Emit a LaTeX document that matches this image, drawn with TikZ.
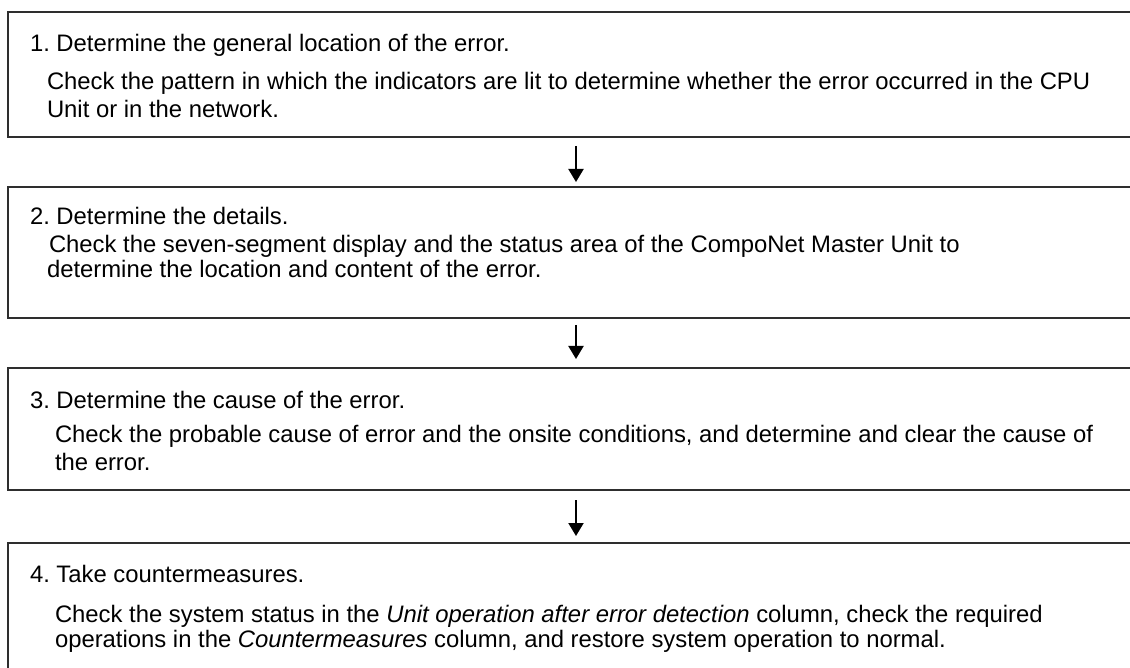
\documentclass[tikz,border=0pt]{standalone}
\usepackage{fontspec}
\setmainfont{Liberation Sans}
\usetikzlibrary{arrows.meta}
\definecolor{boxline}{HTML}{2E2E2E}
\frenchspacing
\tikzset{
  x=1pt, y=-1pt,
  stepbox/.style={draw=boxline, line width=2pt, rectangle, minimum width=1136pt, anchor=north west, inner sep=0pt, outer sep=0pt},
  txt/.style={anchor=base west, inner sep=0pt, outer sep=0pt, font=\fontsize{23.85}{28}\selectfont},
  flow/.style={line width=2pt, draw=black, -{Triangle[length=13pt,width=15pt]}}
}
\begin{document}
\begin{tikzpicture}
\useasboundingbox (0,0) rectangle (1130,668);
\clip (0,0) rectangle (1130,668);
\node[stepbox, minimum height=125pt] (b1) at (8,12) {};
\node[stepbox, minimum height=131pt] (b2) at (8,187) {};
\node[stepbox, minimum height=122pt] (b3) at (8,368) {};
\node[stepbox, minimum height=160pt] (b4) at (8,543) {};

\node[txt] (t1) at (30,52) {1. Determine the general location of the error.};
\node[txt] (t1a) at (47,90) {Check the pattern in which the indicators are lit to determine whether the error occurred in the CPU};
\node[txt] (t1b) at (47,118) {Unit or in the network.};

\node[txt] (t2) at (30,225) {2. Determine the details.};
\node[txt] (t2a) at (49,253) {Check the seven-segment display and the status area of the CompoNet Master Unit to};
\node[txt] (t2b) at (47,278) {determine the location and content of the error.};

\node[txt] (t3) at (30,408) {3. Determine the cause of the error.};
\node[txt] (t3a) at (55,442) {Check the probable cause of error and the onsite conditions, and determine and clear the cause of};
\node[txt] (t3b) at (55,470) {the error.};

\node[txt] (t4) at (30,582) {4. Take countermeasures.};
\node[txt] (t4a) at (55,622) {Check the system status in the \textit{Unit operation after error detection} column, check the required};
\node[txt] (t4b) at (55,647) {operations in the \textit{Countermeasures} column, and restore system operation to normal.};

\draw[flow, shorten <=9pt, shorten >=5pt] (b1.south) -- (b2.north);
\draw[flow, shorten <=7pt, shorten >=9pt] (b2.south) -- (b3.north);
\draw[flow, shorten <=10pt, shorten >=7pt] (b3.south) -- (b4.north);
\end{tikzpicture}
\end{document}
